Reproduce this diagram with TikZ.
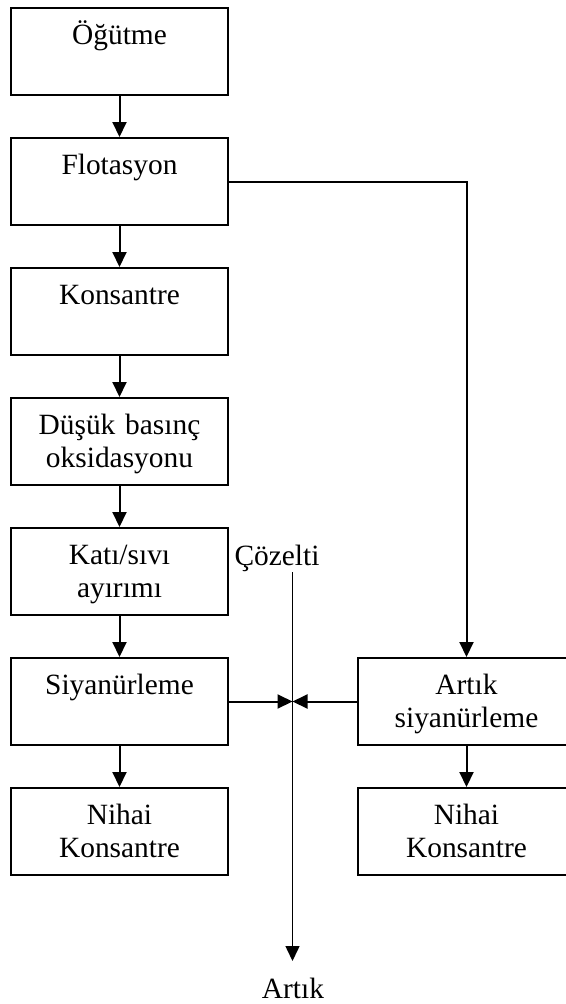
\documentclass[tikz,border=0pt]{standalone}
\usepackage{fontspec}
\setmainfont{Liberation Serif}
\usetikzlibrary{arrows.meta}
\begin{document}
\begin{tikzpicture}[x=1pt,y=-1pt,
  box/.style={draw, line width=2pt, minimum width=217pt, minimum height=87pt, inner sep=0pt},
  txt/.style={font=\fontsize{29.4}{33.5}\selectfont, text width=217pt, align=center, inner sep=0pt, anchor=base},
  flow/.style={line width=2pt, -{Triangle[length=15pt,width=14pt]}},
  plain/.style={line width=2pt}]
\useasboundingbox (0,0) rectangle (565,1004);
% left column
\node[box] (b1) at (119.5,51.5) {};
\node[box] (b2) at (119.5,181.5) {};
\node[box] (b3) at (119.5,311.5) {};
\node[box] (b4) at (119.5,441.5) {};
\node[box] (b5) at (119.5,571.5) {};
\node[box] (b6) at (119.5,701.5) {};
\node[box] (b7) at (119.5,831.5) {};
% right column
\node[box] (r1) at (466.5,701.5) {};
\node[box] (r2) at (466.5,831.5) {};
% texts
\node[txt] (t1) at ([yshift=-37pt]b1.north) {Öğütme};
\node[txt] (t2) at ([yshift=-37pt]b2.north) {Flotasyon};
\node[txt] (t3) at ([yshift=-37pt]b3.north) {Konsantre};
\node[txt] (t4) at ([yshift=-37pt]b4.north) {Düşük basınç\\oksidasyonu};
\node[txt] (t5) at ([yshift=-37pt]b5.north) {Katı/sıvı\\ayırımı};
\node[txt] (t6) at ([yshift=-37pt]b6.north) {Siyanürleme};
\node[txt] (t7) at ([yshift=-37pt]b7.north) {Nihai\\Konsantre};
\node[txt] (tr1) at ([yshift=-37pt]r1.north) {Artık\\siyanürleme};
\node[txt] (tr2) at ([yshift=-37pt]r2.north) {Nihai\\Konsantre};
\node[txt, text width=] (coz) at (277,565) {Çözelti};
\node[txt, text width=] (art) at (293,998) {Artık};
% connectors
\draw[flow] (b1) -- (b2);
\draw[flow] (b2) -- (b3);
\draw[flow] (b3) -- (b4);
\draw[flow] (b4) -- (b5);
\draw[flow] (b5) -- (b6);
\draw[flow] (b6) -- (b7);
\draw[flow] (r1) -- (r2);
\draw[plain, -{Triangle[length=15pt,width=14pt]}] (b2.east) -| (r1.north);
\coordinate (j) at (292.5,701.5);
\coordinate (top) at (292.5,572);
\coordinate (bot) at (292.5,961);
\draw[flow] (b6.east) -- (j);
\draw[flow] (r1.west) -- (j);
\draw[line width=1.5pt, -{Triangle[length=15pt,width=14pt]}] (top) -- (bot);
\end{tikzpicture}
\end{document}
